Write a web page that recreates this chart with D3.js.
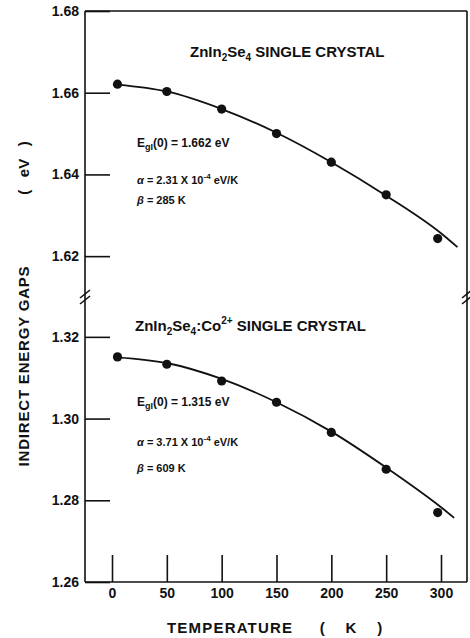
<!DOCTYPE html>
<html>
<head>
<meta charset="utf-8">
<script src="https://cdn.jsdelivr.net/npm/d3@7"></script>
<style>
  body { margin: 0; background: #fff; }
  text { font-family: "Liberation Sans", Arial, sans-serif; fill: #111; }
</style>
</head>
<body>
<div id="chart"></div>
<script>
// measured temperatures (K) and indirect gaps (eV)
const tempPts = [5, 50, 100, 150, 200, 250, 297];
const pureGap = [1.6621, 1.6603, 1.6560, 1.6500, 1.6430, 1.6350, 1.6243];
const coGap = [1.3151, 1.3133, 1.3092, 1.3040, 1.2966, 1.2876, 1.2770];

// fitted curves
const fitTemp = [5, 50, 100, 150, 200, 250, 300];
const pureFit = [1.6620, 1.6603, 1.6560, 1.6502, 1.6430, 1.6348, 1.6256];
const coFit = [1.3150, 1.3136, 1.3097, 1.3040, 1.2968, 1.2880, 1.2783];
const pureFitEnd = [315, 1.6222];
const coFitEnd = [312, 1.2757];

const xTicks = [0, 50, 100, 150, 200, 250, 300];
const topTicks = [1.62, 1.64, 1.66, 1.68];
const botTicks = [1.26, 1.28, 1.30, 1.32];

const width = 470, height = 638;
const fLeft = 85, fRight = 467, fTop = 11, fBottom = 582;

const svg = d3.select("#chart").append("svg")
    .attr("width", width)
    .attr("height", height);

const x = d3.scaleLinear().domain([0, 300]).range([112, 441]);
const yTop = d3.scaleLinear().domain([1.61, 1.68]).range([297, fTop]);
const yBot = d3.scaleLinear().domain([1.26, 1.33]).range([fBottom, 296]);

// frame
const frame = svg.append("g").attr("stroke", "#111").attr("stroke-width", 1.6).attr("fill", "none");
frame.append("line").attr("x1", fLeft).attr("x2", fRight).attr("y1", fTop).attr("y2", fTop);
frame.append("line").attr("x1", fLeft).attr("x2", fRight).attr("y1", fBottom).attr("y2", fBottom);
frame.append("line").attr("x1", fLeft).attr("x2", fLeft).attr("y1", fTop).attr("y2", fBottom);
frame.append("line").attr("x1", fRight).attr("x2", fRight).attr("y1", fTop).attr("y2", fBottom);

// axis breaks
[fLeft, fRight].forEach(bx => {
  [294, 300].forEach(by => {
    frame.append("line")
      .attr("x1", bx - 5).attr("y1", by + 4)
      .attr("x2", bx + 5).attr("y2", by - 4);
  });
});

function styleAxis(g) {
  g.select(".domain").remove();
  g.selectAll(".tick line").attr("stroke", "#111").attr("stroke-width", 1.6);
  g.selectAll(".tick text")
    .style("font-family", '"Liberation Sans", Arial, sans-serif')
    .style("font-weight", "bold")
    .style("font-size", "14px")
    .attr("fill", "#111");
}

svg.append("g")
  .attr("transform", `translate(${fLeft},0)`)
  .call(d3.axisLeft(yTop).tickValues(topTicks).tickFormat(d3.format(".2f"))
    .tickSizeInner(-25).tickSizeOuter(0).tickPadding(6))
  .call(styleAxis);

svg.append("g")
  .attr("transform", `translate(${fLeft},0)`)
  .call(d3.axisLeft(yBot).tickValues(botTicks).tickFormat(d3.format(".2f"))
    .tickSizeInner(-25).tickSizeOuter(0).tickPadding(6))
  .call(styleAxis);

svg.append("g")
  .attr("transform", `translate(0,${fBottom})`)
  .call(d3.axisBottom(x).tickValues(xTicks).tickFormat(d3.format("d"))
    .tickSizeInner(-27).tickSizeOuter(0).tickPadding(6))
  .call(styleAxis);

// fit lines and points
const panels = [
  { y: yTop, pts: pureGap, fit: pureFit, end: pureFitEnd },
  { y: yBot, pts: coGap, fit: coFit, end: coFitEnd }
];

panels.forEach(p => {
  const fitData = fitTemp.map((t, i) => [t, p.fit[i]]).concat([p.end]);
  const line = d3.line()
    .x(d => x(d[0]))
    .y(d => p.y(d[1]))
    .curve(d3.curveMonotoneX);
  svg.append("path")
    .datum(fitData)
    .attr("d", line)
    .attr("fill", "none")
    .attr("stroke", "#111")
    .attr("stroke-width", 1.8);

  svg.append("g").selectAll("circle")
    .data(tempPts.map((t, i) => [t, p.pts[i]]))
    .join("circle")
    .attr("cx", d => x(d[0]))
    .attr("cy", d => p.y(d[1]))
    .attr("r", 4.6)
    .attr("fill", "#111");
});

// labels
function formula(g, xPos, yPos, withCo) {
  const t = g.append("text").attr("x", xPos).attr("y", yPos)
    .style("font-size", "15px").style("font-weight", "bold");
  t.append("tspan").text("ZnIn");
  t.append("tspan").text("2").attr("font-size", "10px").attr("dy", 4);
  t.append("tspan").text("Se").attr("dy", -4);
  t.append("tspan").text("4").attr("font-size", "10px").attr("dy", 4);
  if (withCo) {
    t.append("tspan").text(":Co").attr("dy", -4);
    t.append("tspan").text("2+").attr("font-size", "10px").attr("dy", -7);
    t.append("tspan").text(" SINGLE CRYSTAL").attr("dy", 7);
  } else {
    t.append("tspan").text(" SINGLE CRYSTAL").attr("dy", -4);
  }
}

formula(svg, 190, 57, false);
formula(svg, 135, 331, true);

function params(yE, yA, yB, e0, a, b) {
  const e = svg.append("text").attr("x", 137).attr("y", yE)
    .style("font-size", "12px").style("font-weight", "bold");
  e.append("tspan").text("E");
  e.append("tspan").text("gI").attr("font-size", "9px").attr("dy", 3);
  e.append("tspan").text(`(0) = ${e0} eV`).attr("dy", -3);

  const al = svg.append("text").attr("x", 137).attr("y", yA)
    .style("font-size", "11px").style("font-weight", "bold");
  al.append("tspan").text("α").style("font-style", "italic");
  al.append("tspan").text(` = ${a} X 10`);
  al.append("tspan").text("-4").attr("font-size", "8px").attr("dy", -5);
  al.append("tspan").text(" eV/K").attr("dy", 5);

  const be = svg.append("text").attr("x", 137).attr("y", yB)
    .style("font-size", "11px").style("font-weight", "bold");
  be.append("tspan").text("β").style("font-style", "italic");
  be.append("tspan").text(` = ${b} K`);
}

params(147, 184, 204, "1.662", "2.31", "285");
params(406, 446, 472, "1.315", "3.71", "609");

// axis titles
const yTitle = svg.append("g")
  .style("font-size", "15px").style("font-weight", "bold");
yTitle.append("text")
  .attr("transform", "translate(29,366) rotate(-90)")
  .attr("text-anchor", "middle")
  .style("letter-spacing", "0.8px")
  .text("INDIRECT ENERGY GAPS");
yTitle.append("text")
  .attr("transform", "translate(29,168) rotate(-90)")
  .attr("text-anchor", "middle")
  .attr("xml:space", "preserve")
  .text("(   eV   )");

const xTitle = svg.append("g")
  .style("font-size", "15px").style("font-weight", "bold");
xTitle.append("text")
  .attr("x", 167).attr("y", 633)
  .style("letter-spacing", "1.2px")
  .text("TEMPERATURE");
xTitle.append("text")
  .attr("x", 351).attr("y", 633)
  .attr("text-anchor", "middle")
  .attr("xml:space", "preserve")
  .text("(     K     )");
</script>
</body>
</html>
